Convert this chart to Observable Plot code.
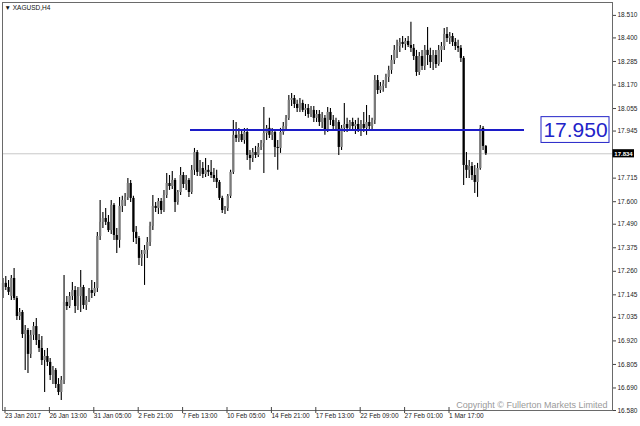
<!DOCTYPE html>
<html><head><meta charset="utf-8">
<script src="https://cdn.jsdelivr.net/npm/d3@7"></script>
<script src="https://cdn.jsdelivr.net/npm/@observablehq/plot@0.6"></script>
<style>html,body{margin:0;padding:0;background:#fff;} #chart{width:640px;height:426px;overflow:hidden;}</style>
</head><body><div id="chart"></div>
<script>
// ---- data (XAGUSD H4, 175 bars) ----
const open = [
17.166,17.201,17.181,17.137,17.225,17.127,17.039,17.059,16.951,16.971,
16.854,16.947,16.990,16.922,16.883,16.824,16.844,16.815,16.751,16.776,
16.707,16.668,16.727,17.108,17.088,17.137,17.166,17.088,17.137,17.181,
17.093,17.117,17.166,17.152,17.176,17.430,17.499,17.518,17.499,17.459,
17.582,17.435,17.411,17.577,17.606,17.621,17.689,17.616,17.450,17.420,
17.323,17.342,17.362,17.401,17.479,17.577,17.567,17.601,17.557,17.630,
17.689,17.674,17.704,17.596,17.645,17.728,17.684,17.704,17.645,17.753,
17.840,17.743,17.762,17.733,17.753,17.743,17.728,17.713,17.694,17.616,
17.557,17.567,17.626,17.743,17.924,17.909,17.928,17.899,17.938,17.826,
17.811,17.840,17.826,17.865,17.884,17.933,17.958,17.924,17.938,17.865,
17.860,17.938,17.967,18.007,18.095,18.104,18.075,18.055,18.080,18.046,
18.055,18.026,18.046,18.007,18.026,17.987,18.007,17.948,18.036,17.997,
17.967,17.987,17.865,17.958,17.977,17.958,17.987,17.967,17.977,17.948,
17.977,17.958,17.987,17.967,17.997,18.192,18.143,18.163,18.173,18.207,
18.241,18.290,18.339,18.358,18.378,18.368,18.383,18.363,18.349,18.309,
18.231,18.309,18.261,18.339,18.314,18.280,18.314,18.270,18.339,18.358,
18.417,18.397,18.407,18.378,18.358,18.349,18.300,17.777,17.753,17.772,
17.728,17.694,17.762,17.958,17.870];
const high = [
17.225,17.235,17.215,17.240,17.274,17.137,17.078,17.069,16.995,16.981,
16.971,17.010,17.030,16.951,16.942,16.873,16.883,16.834,16.795,16.785,
16.736,16.746,17.240,17.137,17.157,17.205,17.186,17.181,17.264,17.191,
17.137,17.176,17.215,17.205,17.450,17.606,17.547,17.567,17.533,17.606,
17.591,17.469,17.621,17.626,17.640,17.713,17.704,17.626,17.479,17.430,
17.362,17.386,17.425,17.499,17.630,17.596,17.616,17.616,17.655,17.738,
17.728,17.748,17.713,17.655,17.767,17.743,17.728,17.713,17.777,17.860,
17.850,17.801,17.792,17.811,17.777,17.801,17.762,17.753,17.704,17.626,
17.577,17.635,17.753,17.997,17.987,17.958,17.948,17.958,17.958,17.850,
17.860,17.870,17.884,17.899,18.060,17.972,18.007,17.958,17.948,17.899,
17.958,17.987,18.021,18.119,18.129,18.119,18.095,18.104,18.095,18.075,
18.075,18.065,18.065,18.046,18.046,18.036,18.021,18.060,18.055,18.021,
18.007,17.997,17.972,18.080,18.007,17.997,18.007,17.997,18.007,17.997,
18.036,18.070,18.021,18.007,18.217,18.217,18.182,18.192,18.222,18.261,
18.314,18.363,18.388,18.397,18.407,18.397,18.407,18.476,18.368,18.339,
18.329,18.339,18.363,18.451,18.349,18.339,18.339,18.363,18.378,18.446,
18.451,18.427,18.422,18.397,18.388,18.363,18.309,17.840,17.801,17.792,
17.777,17.787,17.972,17.967,17.875];
const low = [
17.127,17.166,17.142,17.117,17.117,17.020,17.020,16.932,16.776,16.761,
16.834,16.922,16.898,16.863,16.800,16.668,16.795,16.727,16.707,16.688,
16.653,16.629,16.707,17.069,17.078,17.117,17.054,17.069,17.059,17.074,
17.069,17.108,17.127,17.137,17.157,17.411,17.469,17.484,17.450,17.440,
17.411,17.347,17.372,17.547,17.577,17.606,17.596,17.401,17.391,17.288,
17.284,17.191,17.323,17.381,17.459,17.547,17.538,17.538,17.547,17.616,
17.655,17.660,17.547,17.582,17.630,17.665,17.655,17.621,17.635,17.728,
17.723,17.723,17.713,17.718,17.723,17.713,17.694,17.665,17.606,17.542,
17.538,17.552,17.616,17.733,17.889,17.889,17.889,17.880,17.801,17.753,
17.792,17.811,17.816,17.850,17.738,17.899,17.909,17.899,17.816,17.753,
17.836,17.924,17.948,17.997,18.065,18.055,18.036,18.036,18.036,18.016,
18.007,18.011,17.987,17.987,17.967,17.958,17.924,17.938,17.972,17.948,
17.948,17.826,17.850,17.938,17.938,17.943,17.948,17.928,17.938,17.919,
17.938,17.924,17.948,17.943,17.977,18.124,18.129,18.134,18.153,18.182,
18.222,18.270,18.300,18.329,18.349,18.339,18.353,18.329,18.290,18.212,
18.217,18.241,18.241,18.265,18.251,18.241,18.251,18.261,18.280,18.339,
18.378,18.368,18.358,18.339,18.329,18.280,17.679,17.713,17.713,17.704,
17.640,17.621,17.753,17.850,17.826];
const close = [
17.201,17.181,17.157,17.225,17.127,17.039,17.059,16.951,16.971,16.854,
16.947,16.990,16.922,16.883,16.824,16.844,16.815,16.751,16.776,16.707,
16.668,16.727,17.108,17.088,17.137,17.166,17.088,17.137,17.181,17.093,
17.117,17.166,17.152,17.176,17.430,17.499,17.518,17.499,17.459,17.582,
17.435,17.411,17.577,17.606,17.621,17.689,17.616,17.450,17.420,17.323,
17.342,17.362,17.401,17.479,17.577,17.567,17.601,17.557,17.630,17.689,
17.674,17.704,17.596,17.645,17.728,17.684,17.704,17.645,17.753,17.840,
17.743,17.762,17.733,17.753,17.743,17.728,17.713,17.694,17.616,17.557,
17.567,17.626,17.743,17.924,17.909,17.928,17.899,17.938,17.826,17.811,
17.840,17.826,17.865,17.884,17.933,17.958,17.924,17.938,17.865,17.860,
17.938,17.967,18.007,18.095,18.104,18.075,18.055,18.080,18.046,18.055,
18.026,18.046,18.007,18.026,17.987,18.007,17.948,18.036,17.997,17.967,
17.987,17.865,17.958,17.977,17.958,17.987,17.967,17.977,17.948,17.977,
17.958,17.987,17.967,17.997,18.192,18.143,18.163,18.173,18.207,18.241,
18.290,18.339,18.358,18.378,18.368,18.383,18.363,18.349,18.309,18.231,
18.309,18.261,18.339,18.314,18.280,18.314,18.270,18.339,18.358,18.417,
18.397,18.407,18.378,18.358,18.349,18.300,17.777,17.753,17.772,17.728,
17.694,17.762,17.958,17.870,17.834];

const xTickBars = [0,16,32,48,64,80,96,112,128,144,160];
const xTickLabels = ["23 Jan 2017","26 Jan 13:00","31 Jan 05:00","2 Feb 21:00","7 Feb 13:00",
  "10 Feb 05:00","14 Feb 21:00","17 Feb 13:00","22 Feb 09:00","27 Feb 01:00","1 Mar 17:00"];
const yTicks = [18.510,18.400,18.285,18.170,18.055,17.945,17.715,17.600,17.490,
  17.375,17.260,17.145,17.035,16.920,16.805,16.690,16.580];
const levelPrice = 17.950;
const levelLabel = "17.950";
const symbolTitle = "\u25BC XAGUSD,H4";
const copyright = "Copyright \u00A9 Fullerton Markets Limited";

// ---- chart ----
const bars = close.map((c, i) => ({i, open: open[i], high: high[i], low: low[i], close: c}));
const up = bars.filter(d => d.close >= d.open);
const down = bars.filter(d => d.close < d.open);
const last = bars[bars.length - 1];

const W = 640, H = 426, mL = 2, mR = 28, mT = 2, mB = 16;
const pxPerBar = 2.775;
const xMin = -0.5 / pxPerBar;
const xMax = xMin + (W - mL - mR) / pxPerBar;
const barAt = px => xMin + (px - mL) / pxPerBar;
const yMin = 16.58, yMax = 18.573;

const chart = Plot.plot({
  width: W, height: H,
  marginLeft: mL, marginRight: mR, marginTop: mT, marginBottom: mB,
  style: {fontFamily: "'Liberation Sans', Arial, sans-serif", fontSize: "6.5px", color: "#222", background: "#fff", overflow: "visible"},
  x: {type: "linear", domain: [xMin, xMax], axis: null, label: null},
  y: {domain: [yMin, yMax], axis: null, label: null},
  marks: [
    Plot.ruleY([last.close], {stroke: "#c8c8c8", strokeWidth: 1}),
    Plot.ruleX(bars, {x: "i", y1: "low", y2: "high", stroke: "#000", strokeWidth: 1.1}),
    Plot.ruleX(up, {x: "i", y1: "open", y2: "close", stroke: "#7a7a7a", strokeWidth: 2.3}),
    Plot.ruleX(down, {x: "i", y1: "open", y2: "close", stroke: "#000", strokeWidth: 2.3}),
    Plot.ruleY([levelPrice], {x1: barAt(190), x2: barAt(524), stroke: "#1c1cc8", strokeWidth: 2}),
    Plot.rect([levelPrice], {x1: barAt(541), x2: barAt(609), y1: d => d - 0.063, y2: d => d + 0.063, fill: "#fff", stroke: "#2424c8", strokeWidth: 1}),
    Plot.text([levelLabel], {x: barAt(575), y: levelPrice, text: d => d, fill: "#2222c8", fontSize: 21, fontFamily: "'Liberation Sans', Arial, sans-serif"}),
    Plot.frame({stroke: "#6a6a6a"}),
    Plot.axisY({anchor: "right", label: null, ticks: yTicks, tickFormat: d => d.toFixed(3), tickSize: 3, tickPadding: 2, fontSize: 6.5, stroke: "#444", letterSpacing: -0.3}),
    Plot.rect([last.close], {x1: barAt(612.5), x2: barAt(634), y1: d => d - 0.02, y2: d => d + 0.02, fill: "#000"}),
    Plot.text([last.close], {x: barAt(623), y: d => d, text: d => d.toFixed(3), fill: "#fff", fontSize: 6, fontWeight: "bold", letterSpacing: -0.3}),
    Plot.axisX({label: null, ticks: xTickBars, tickFormat: d => xTickLabels[xTickBars.indexOf(d)], textAnchor: "start", tickSize: 6, tickPadding: 0, dx: 2, dy: -3, fontSize: 6.5, stroke: "#444"}),
    Plot.text([symbolTitle], {frameAnchor: "top-left", dx: 2, dy: 3, fontSize: 6.5, fill: "#111", textAnchor: "start"}),
    Plot.text([copyright], {frameAnchor: "bottom-right", dx: -5, dy: -3, fontSize: 9, fill: "#9a9a9a", textAnchor: "end"})
  ]
});
document.getElementById("chart").appendChild(chart);
</script>
</body></html>
